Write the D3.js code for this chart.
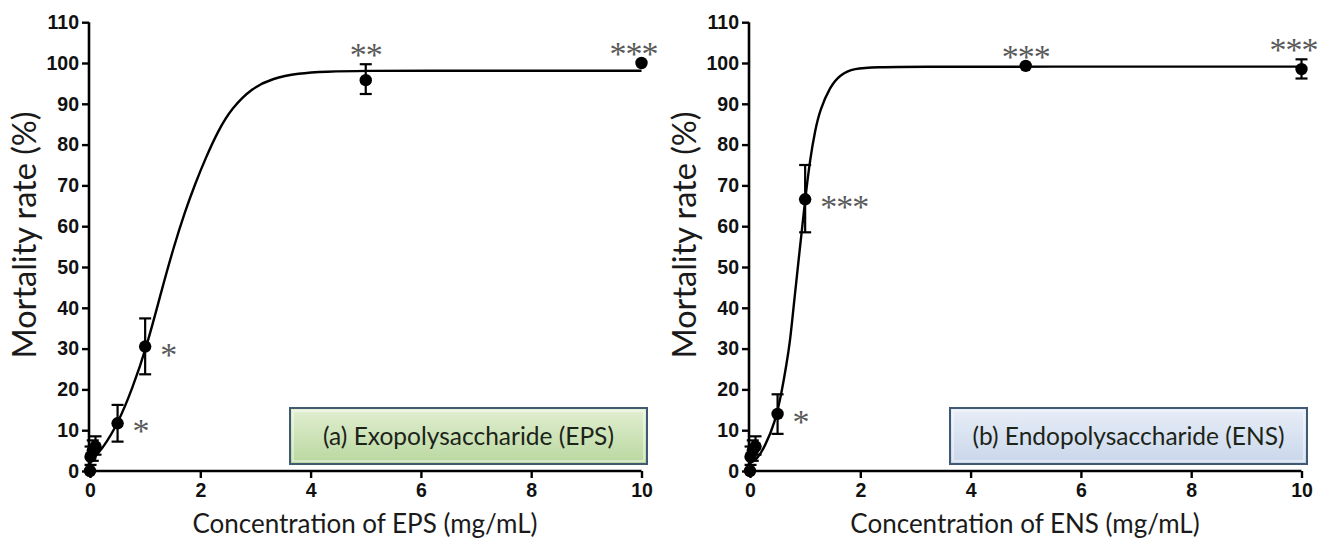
<!DOCTYPE html>
<html>
<head>
<meta charset="utf-8">
<script src="https://cdn.jsdelivr.net/npm/d3@7"></script>
<style>
  body { margin: 0; background: #fff; }
  svg { display: block; }
</style>
</head>
<body>
<svg id="chart" width="1330" height="545"></svg>
<script>
// ---- data ----
const xTicks = [0, 2, 4, 6, 8, 10]
const yTicks = [0, 10, 20, 30, 40, 50, 60, 70, 80, 90, 100, 110]

// panel (a) EPS: measured points (mean, lower, upper) and significance marks
const epsX = [0, 0.01, 0.05, 0.1, 0.5, 1, 5, 10]
const epsY = [0, 3.5, 5, 6, 11.7, 30.5, 95.8, 100]
const epsLo = [0, 1.5, 2.5, 4, 7.2, 23.7, 92.4, 100]
const epsHi = [0, 6, 7.5, 8.5, 16.2, 37.4, 99.7, 100]
const epsMarks = [
    { x: 0.5, y: 11.7, hi: 16.2, text: '*', side: 'right' },
    { x: 1, y: 30.5, hi: 37.4, text: '*', side: 'right' },
    { x: 5, y: 95.8, hi: 99.7, text: '**', side: 'top' },
    { x: 10, y: 100, hi: 100, text: '***', side: 'top' },
]
// fitted curve
const epsCurveX = [0, 0.03, 0.21, 0.51, 0.76, 1.03, 1.30, 1.52, 1.72, 1.91, 2.09, 2.33, 2.57, 2.93, 3.30, 3.78, 4.26, 5, 6, 8, 10]
const epsCurveY = [2.2, 2.7, 5.1, 11.7, 19.9, 30.5, 44.4, 55, 63.5, 70.5, 76.5, 83.6, 88.9, 93.8, 96.2, 97.5, 97.9, 98.1, 98.1, 98.1, 98.1]

// panel (b) ENS
const ensX = [0, 0.01, 0.05, 0.1, 0.5, 1, 5, 10]
const ensY = [0, 3.5, 5, 6, 14.0, 66.6, 99.3, 98.5]
const ensLo = [0, 1.5, 2.5, 4, 9.1, 58.5, 99.3, 96.2]
const ensHi = [0, 6, 7.5, 8.5, 18.8, 75.0, 99.3, 100.9]
const ensMarks = [
    { x: 0.5, y: 14.0, hi: 18.8, text: '*', side: 'right' },
    { x: 1, y: 66.6, hi: 75.0, text: '***', side: 'right' },
    { x: 5, y: 99.3, hi: 99.3, text: '***', side: 'top' },
    { x: 10, y: 98.5, hi: 100.9, text: '***', side: 'top' },
]
const ensCurveX = [0, 0.12, 0.27, 0.45, 0.57, 0.66, 0.73, 0.79, 0.9, 1.0, 1.09, 1.18, 1.27, 1.45, 1.63, 1.88, 2.3, 3, 5, 10]
const ensCurveY = [2.0, 2.7, 6.0, 11.7, 19.0, 26.0, 32.1, 40.3, 54.0, 66.6, 76.5, 83.5, 88.5, 94.2, 97.1, 98.7, 99.0, 99.1, 99.1, 99.1]

const svg = d3.select('#chart')

const defs = svg.append('defs')
function addGradient(id, top, bottom) {
    const g = defs.append('linearGradient')
        .attr('id', id)
        .attr('x1', 0).attr('y1', 0)
        .attr('x2', 0).attr('y2', 1)
    g.append('stop').attr('offset', '0%').attr('stop-color', top)
    g.append('stop').attr('offset', '100%').attr('stop-color', bottom)
}
addGradient('gradGreen', '#e2efd2', '#b9d79f')
addGradient('gradBlue', '#e8eef8', '#c9d6ea')

const yScale = d3.scaleLinear().domain([0, 110]).range([471, 22.2])
const titleFont = 'Lato, "Open Sans", sans-serif'

function drawPanel(cfg) {
    const x = d3.scaleLinear().domain([0, 10]).range([cfg.x0, cfg.x0 + 551.5])
    const xMax = x(10)
    const g = svg.append('g')

    // legend box
    const box = g.append('g').attr('transform', `translate(${cfg.boxX},408)`)
    box.append('rect')
        .attr('width', cfg.boxW).attr('height', 56)
        .attr('fill', `url(#${cfg.grad})`)
        .attr('stroke', '#415a73').attr('stroke-width', 2)
    box.append('rect')
        .attr('x', 3).attr('y', 3)
        .attr('width', cfg.boxW - 6).attr('height', 50)
        .attr('fill', 'none')
        .attr('stroke', 'rgba(255,255,255,0.55)').attr('stroke-width', 1.5)
    box.append('text')
        .attr('x', cfg.boxW / 2).attr('y', 37)
        .attr('text-anchor', 'middle')
        .attr('font-family', titleFont)
        .attr('font-size', 24.5)
        .attr('fill', '#1c2418')
        .text(cfg.label)

    // axes
    const yAxis = d3.axisLeft(yScale).tickValues(yTicks).tickSize(7).tickPadding(3)
    const xAxis = d3.axisBottom(x).tickValues(xTicks).tickSize(7).tickPadding(5)

    const ya = g.append('g').attr('transform', `translate(${cfg.x0 - 1},0)`).call(yAxis)
    const xa = g.append('g').attr('transform', `translate(0,${471})`).call(xAxis)
    ;[ya, xa].forEach((a) => {
        a.select('.domain').attr('stroke', '#000').attr('stroke-width', 2.6)
        a.selectAll('.tick line').attr('stroke', '#000').attr('stroke-width', 2.4)
        a.selectAll('.tick text')
            .attr('font-family', '"Liberation Sans", Arial, sans-serif')
            .attr('font-weight', 'bold')
            .attr('font-size', 19.5)
            .attr('fill', '#111')
    })
    ya.select('.domain').attr('d', `M0,22.2V471`)
    xa.select('.domain').attr('d', `M${cfg.x0 - 2},0H${xMax}`)

    // axis titles
    g.append('text')
        .attr('transform', `translate(${cfg.x0 - 54},${235}) rotate(-90)`)
        .attr('text-anchor', 'middle')
        .attr('font-family', titleFont)
        .attr('font-size', 32.5)
        .attr('fill', '#1a1a1a')
        .text('Mortality rate (%)')
    g.append('text')
        .attr('x', cfg.x0 + 275).attr('y', 533)
        .attr('text-anchor', 'middle')
        .attr('font-family', titleFont)
        .attr('font-size', 26)
        .attr('fill', '#1a1a1a')
        .text(cfg.xTitle)

    // fitted curve
    const curve = d3.zip(cfg.curveX, cfg.curveY)
    g.append('path')
        .datum(curve)
        .attr('fill', 'none')
        .attr('stroke', '#000')
        .attr('stroke-width', 2.4)
        .attr('d', d3.line()
            .x(d => x(d[0]))
            .y(d => yScale(d[1]))
            .curve(d3.curveBasis))

    // error bars + points
    const pts = cfg.px.map((v, i) => ({ x: v, y: cfg.py[i], lo: cfg.lo[i], hi: cfg.hi[i] }))
    const eb = g.append('g').attr('stroke', '#000').attr('stroke-width', 2.2)
    pts.filter(d => d.hi - d.lo > 0.5).forEach((d) => {
        eb.append('line')
            .attr('x1', x(d.x)).attr('x2', x(d.x))
            .attr('y1', yScale(d.lo)).attr('y2', yScale(d.hi))
        ;[d.lo, d.hi].forEach((v) => {
            eb.append('line')
                .attr('x1', x(d.x) - 6).attr('x2', x(d.x) + 6)
                .attr('y1', yScale(v)).attr('y2', yScale(v))
        })
    })
    g.append('g').selectAll('circle')
        .data(pts)
        .join('circle')
        .attr('cx', d => x(d.x))
        .attr('cy', d => yScale(d.y))
        .attr('r', 6.2)
        .attr('fill', '#000')

    // significance marks
    g.append('g').selectAll('text')
        .data(cfg.marks)
        .join('text')
        .attr('x', d => (d.side === 'right' ? x(d.x) + 15 : Math.min(x(d.x), xMax - 8)))
        .attr('y', d => (d.side === 'right' ? yScale(d.y) + 19 : yScale(Math.max(d.y, d.hi)) + 2))
        .attr('text-anchor', d => (d.side === 'right' ? 'start' : 'middle'))
        .attr('font-family', '"Liberation Serif", "Times New Roman", serif')
        .attr('font-size', 34)
        .attr('fill', '#595959')
        .attr('letter-spacing', -1)
        .text(d => d.text)
}

drawPanel({
    x0: 90, boxX: 290, boxW: 357, grad: 'gradGreen',
    label: '(a) Exopolysaccharide (EPS)',
    xTitle: 'Concentration of EPS (mg/mL)',
    px: epsX, py: epsY, lo: epsLo, hi: epsHi, marks: epsMarks,
    curveX: epsCurveX, curveY: epsCurveY,
})
drawPanel({
    x0: 750, boxX: 950, boxW: 357, grad: 'gradBlue',
    label: '(b) Endopolysaccharide (ENS)',
    xTitle: 'Concentration of ENS (mg/mL)',
    px: ensX, py: ensY, lo: ensLo, hi: ensHi, marks: ensMarks,
    curveX: ensCurveX, curveY: ensCurveY,
})
</script>
</body>
</html>
